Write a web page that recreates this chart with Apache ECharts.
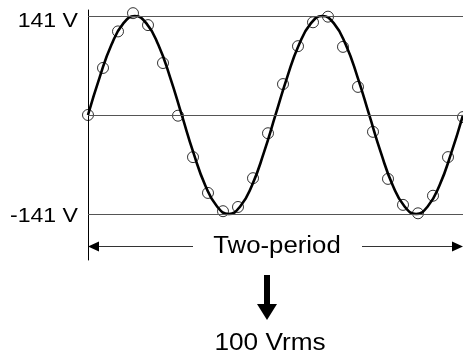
<!DOCTYPE html>
<html>
<head>
<meta charset="utf-8">
<script src="https://cdn.jsdelivr.net/npm/echarts@6/dist/echarts.min.js"></script>
<style>html,body{margin:0;padding:0;background:#fff;}#c{width:463px;height:361px;}</style>
</head>
<body>
<div id="c"></div>
<script>
// Sampled points (circles): phase in degrees, voltage in V
const sampleAngles = [0, 28.8, 57.6, 86.4, 115.2, 144, 172.8, 201.6, 230.4, 259.2, 288, 316.8, 345.6,
  374.4, 403.2, 432, 460.8, 489.6, 518.4, 547.2, 576, 604.8, 633.6, 662.4, 691.2, 720];
const sampleValues = [0, 67, 119, 145, 128, 74, -1, -60, -111, -137, -131, -90, -26,
  44, 98, 132, 140, 97, 40, -24, -91, -128, -140, -115, -60, -3];
// Continuous waveform read at 1/16-period steps
const curveAngles = [0, 22.5, 45, 67.5, 90, 112.5, 135, 157.5, 180, 202.5, 225, 247.5, 270, 292.5, 315, 337.5,
  360, 382.5, 405, 427.5, 450, 472.5, 495, 517.5, 540, 562.5, 585, 607.5, 630, 652.5, 675, 697.5, 720];
const curveValues = [0, 54, 100, 130, 141, 130, 100, 54, 0, -54, -100, -130, -141, -130, -100, -54,
  0, 54, 100, 130, 141, 130, 100, 54, 0, -54, -100, -130, -141, -130, -100, -54, 0];
// Reference levels
const levelValues = [141, 0, -141];
const levelLabels = ['141 V', '', '-141 V'];
const spanLabel = 'Two-period';
const resultLabel = '100 Vrms';

const chart = echarts.init(document.getElementById('c'), null, {renderer: 'canvas'});
const FONT = '"Liberation Sans", Arial, Helvetica, sans-serif';

const curveData = curveAngles.map((a, i) => [a, curveValues[i]]);
const sampleData = sampleAngles.map((a, i) => [a, sampleValues[i]]);

chart.setOption({
  animation: false,
  backgroundColor: '#fff',
  grid: {left: 88, right: 0, top: 10, bottom: 101, containLabel: false},
  xAxis: {type: 'value', min: 0, max: 720, show: false},
  yAxis: {
    type: 'value', min: -206.5, max: 149.5,
    axisLine: {show: true, onZero: false, lineStyle: {color: '#000', width: 1}},
    axisTick: {show: false}, axisLabel: {show: false}, splitLine: {show: false}
  },
  series: [
    {
      type: 'line', data: curveData, smooth: 0.5, showSymbol: false, symbol: 'none',
      lineStyle: {color: '#000', width: 2.6}, clip: false, z: 3,
      markLine: {
        silent: true, symbol: 'none', animation: false,
        lineStyle: {color: '#555', width: 1, type: 'solid'},
        label: {show: false},
        data: levelValues.map(v => ({yAxis: v}))
      }
    },
    {
      type: 'scatter', data: sampleData, symbol: 'circle', symbolSize: 11, clip: false, z: 4,
      itemStyle: {color: 'rgba(0,0,0,0)', borderColor: '#000', borderWidth: 1}
    }
  ],
  graphic: [
    {type: 'text', x: 78, y: 21, scaleX: 1.1, style: {text: levelLabels[0], font: '21px ' + FONT, fill: '#000', textAlign: 'right', textVerticalAlign: 'middle'}},
    {type: 'text', x: 78, y: 216.5, scaleX: 1.1, style: {text: levelLabels[2], font: '21px ' + FONT, fill: '#000', textAlign: 'right', textVerticalAlign: 'middle'}},
    {type: 'text', x: 277, y: 247, scaleX: 1.12, style: {text: spanLabel, font: '23px ' + FONT, fill: '#000', textAlign: 'center', textVerticalAlign: 'middle'}},
    {type: 'text', x: 270, y: 344, scaleX: 1.14, style: {text: resultLabel, font: '23px ' + FONT, fill: '#000', textAlign: 'center', textVerticalAlign: 'middle'}},
    // Two-period arrows
    {type: 'line', shape: {x1: 98, y1: 246.5, x2: 193, y2: 246.5}, style: {stroke: '#333', lineWidth: 1.2}},
    {type: 'polygon', shape: {points: [[88, 246.5], [99, 241.5], [99, 251.5]]}, style: {fill: '#000'}},
    {type: 'line', shape: {x1: 362, y1: 246.5, x2: 454, y2: 246.5}, style: {stroke: '#333', lineWidth: 1.2}},
    {type: 'polygon', shape: {points: [[463, 246.5], [452, 241.5], [452, 251.5]]}, style: {fill: '#000'}},
    // Down arrow
    {type: 'rect', shape: {x: 264, y: 275, width: 6, height: 31}, style: {fill: '#000'}},
    {type: 'polygon', shape: {points: [[257, 304], [277, 304], [267, 320]]}, style: {fill: '#000'}}
  ]
});
</script>
</body>
</html>
